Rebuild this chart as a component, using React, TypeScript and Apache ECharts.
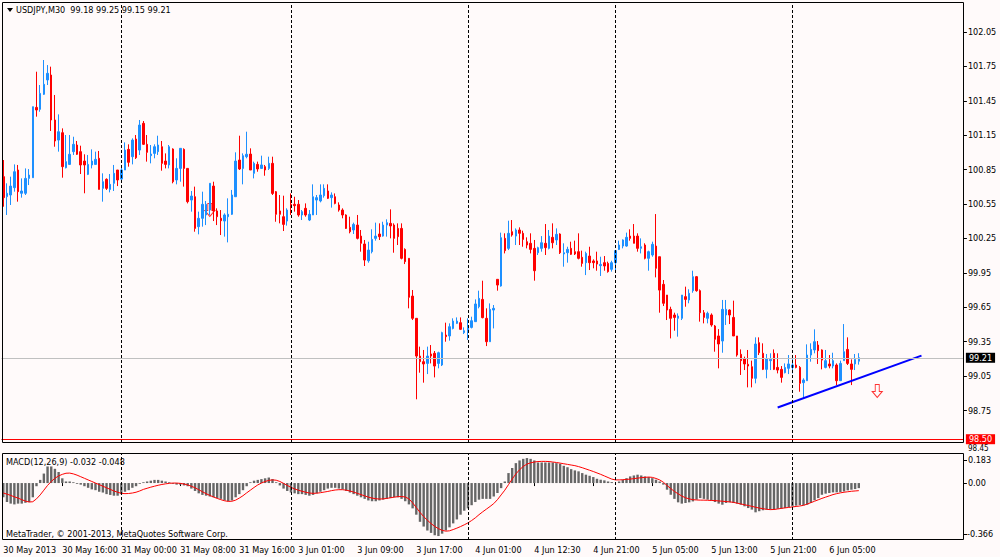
import React, { useEffect, useRef } from "react";
import * as echarts from "echarts";

const CATEGORY_COUNT = 261;
const TIME_TICKS: [number, string][] = [
  [0, "30 May 2013"], [16, "30 May 16:00"], [32, "31 May 00:00"], [48, "31 May 08:00"],
  [64, "31 May 16:00"], [80, "3 Jun 01:00"], [96, "3 Jun 09:00"], [112, "3 Jun 17:00"],
  [128, "4 Jun 01:00"], [144, "4 Jun 12:30"], [160, "4 Jun 21:00"], [176, "5 Jun 05:00"],
  [192, "5 Jun 13:00"], [208, "5 Jun 21:00"], [224, "6 Jun 05:00"],
];
const DAY_SEPARATORS = [32, 78, 126, 166, 214];
const PRICE_TICKS = [98.75, 99.05, 99.35, 99.65, 99.95, 100.25, 100.55, 100.85, 101.15, 101.45, 101.75, 102.05];
const MACD_TICKS = [0];
const BID_PRICE = 99.21;
const ALERT_PRICE = 98.5;
const TREND_LINE: [number, number][] = [[210, 98.777], [249, 99.229]];
const ARROWS: [number, number][] = [[56, 100.498], [237, 98.92]];

// [open, high, low, close]
const CANDLES: [number, number, number, number][] = [
  [100.789, 100.934, 100.527, 100.606], [100.615, 100.731, 100.455, 100.644], [100.629, 100.789, 100.542, 100.707],
  [100.693, 100.896, 100.658, 100.832], [100.847, 100.891, 100.571, 100.658], [100.644, 100.774, 100.606, 100.664],
  [100.644, 100.861, 100.629, 100.774], [100.774, 100.855, 100.716, 100.803], [100.780, 101.399, 100.780, 101.399],
  [101.393, 101.704, 101.312, 101.370], [101.376, 101.588, 101.355, 101.515], [101.507, 101.806, 101.501, 101.594],
  [101.632, 101.762, 101.588, 101.690], [101.675, 101.748, 101.187, 101.283], [101.283, 101.501, 101.050, 101.100],
  [101.108, 101.332, 101.007, 101.181], [101.172, 101.210, 100.780, 100.876], [100.867, 101.152, 100.861, 100.920],
  [100.896, 101.152, 100.891, 100.984], [101.007, 101.137, 100.978, 101.071], [101.065, 101.100, 100.978, 100.984],
  [101.007, 101.059, 100.812, 100.891], [100.925, 100.984, 100.644, 100.891], [100.809, 100.978, 100.803, 100.896],
  [100.891, 101.027, 100.861, 100.925], [100.896, 101.007, 100.891, 100.940], [100.949, 101.013, 100.678, 100.678],
  [100.687, 100.818, 100.571, 100.745], [100.766, 100.774, 100.673, 100.687], [100.678, 100.812, 100.652, 100.722],
  [100.731, 100.891, 100.664, 100.818], [100.847, 100.847, 100.707, 100.760], [100.768, 100.891, 100.745, 100.847],
  [100.847, 101.088, 100.847, 101.021], [101.027, 101.071, 100.876, 100.914], [100.963, 101.123, 100.896, 101.108],
  [101.117, 101.152, 100.943, 100.954], [101.021, 101.283, 100.978, 101.239], [101.254, 101.274, 101.065, 101.071],
  [101.071, 101.152, 100.920, 101.001], [100.972, 101.065, 100.905, 100.986], [100.992, 101.071, 100.949, 101.050],
  [101.007, 101.146, 100.978, 101.065], [101.050, 101.100, 100.841, 100.905], [100.925, 100.992, 100.861, 100.896],
  [100.891, 101.065, 100.861, 101.050], [101.030, 101.036, 100.731, 100.745], [100.760, 100.949, 100.722, 100.861],
  [100.861, 101.036, 100.745, 101.036], [101.027, 101.036, 100.702, 100.861], [100.861, 100.861, 100.556, 100.571],
  [100.585, 100.664, 100.484, 100.620], [100.614, 100.702, 100.309, 100.338], [100.353, 100.484, 100.286, 100.426],
  [100.426, 100.658, 100.353, 100.548], [100.455, 100.577, 100.367, 100.548], [100.498, 100.731, 100.455, 100.731],
  [100.707, 100.745, 100.402, 100.490], [100.490, 100.513, 100.367, 100.440], [100.426, 100.498, 100.280, 100.405],
  [100.402, 100.469, 100.266, 100.455], [100.440, 100.600, 100.216, 100.461], [100.461, 100.673, 100.455, 100.629],
  [100.614, 101.001, 100.614, 100.925], [100.934, 101.146, 100.847, 100.856], [100.861, 100.992, 100.722, 100.972],
  [100.963, 101.181, 100.949, 100.984], [100.986, 101.036, 100.847, 100.847], [100.818, 100.920, 100.774, 100.905],
  [100.896, 100.920, 100.832, 100.856], [100.861, 100.972, 100.856, 100.891], [100.876, 100.891, 100.797, 100.847],
  [100.861, 100.963, 100.847, 100.905], [100.905, 100.963, 100.629, 100.643], [100.658, 100.664, 100.396, 100.461],
  [100.490, 100.629, 100.382, 100.461], [100.440, 100.623, 100.315, 100.373], [100.402, 100.513, 100.362, 100.498],
  [100.548, 100.643, 100.455, 100.536], [100.548, 100.614, 100.484, 100.536], [100.548, 100.585, 100.440, 100.455],
  [100.455, 100.498, 100.411, 100.484], [100.513, 100.556, 100.440, 100.455], [100.411, 100.498, 100.402, 100.461],
  [100.455, 100.722, 100.455, 100.614], [100.585, 100.629, 100.455, 100.606], [100.577, 100.722, 100.565, 100.629],
  [100.623, 100.722, 100.606, 100.687], [100.664, 100.722, 100.594, 100.600], [100.606, 100.652, 100.519, 100.629],
  [100.614, 100.643, 100.548, 100.556], [100.542, 100.565, 100.484, 100.498], [100.498, 100.513, 100.426, 100.455],
  [100.455, 100.461, 100.333, 100.338], [100.347, 100.440, 100.295, 100.309], [100.324, 100.388, 100.289, 100.373],
  [100.367, 100.455, 100.242, 100.251], [100.271, 100.324, 100.135, 100.208], [100.202, 100.237, 100.010, 100.062],
  [100.056, 100.222, 100.039, 100.149], [100.135, 100.330, 100.120, 100.242], [100.251, 100.388, 100.231, 100.271],
  [100.289, 100.382, 100.237, 100.266], [100.271, 100.396, 100.266, 100.367], [100.367, 100.417, 100.266, 100.388],
  [100.382, 100.504, 100.251, 100.359], [100.367, 100.382, 100.126, 100.251], [100.338, 100.382, 100.193, 100.266],
  [100.338, 100.382, 100.068, 100.077], [100.155, 100.164, 100.027, 100.048], [100.077, 100.077, 99.641, 99.737],
  [99.748, 99.801, 99.539, 99.554], [99.554, 99.554, 98.848, 99.225], [99.225, 99.307, 99.080, 99.176],
  [99.176, 99.278, 98.993, 99.156], [99.161, 99.307, 99.068, 99.225], [99.243, 99.321, 99.161, 99.225],
  [99.249, 99.269, 99.039, 99.138], [99.161, 99.263, 99.118, 99.254], [99.147, 99.437, 99.138, 99.429],
  [99.408, 99.516, 99.350, 99.394], [99.400, 99.510, 99.359, 99.481], [99.466, 99.554, 99.458, 99.530],
  [99.510, 99.562, 99.504, 99.530], [99.516, 99.562, 99.452, 99.458], [99.429, 99.475, 99.417, 99.446],
  [99.437, 99.554, 99.365, 99.475], [99.475, 99.568, 99.466, 99.533], [99.525, 99.719, 99.525, 99.679],
  [99.655, 99.795, 99.641, 99.728], [99.719, 99.882, 99.554, 99.560], [99.554, 99.641, 99.312, 99.350],
  [99.350, 99.684, 99.350, 99.632], [99.626, 99.670, 99.466, 99.641], [99.894, 99.894, 99.795, 99.844],
  [99.836, 100.301, 99.830, 100.257], [100.251, 100.295, 100.120, 100.144], [100.164, 100.405, 100.149, 100.295],
  [100.309, 100.411, 100.266, 100.280], [100.271, 100.338, 100.193, 100.324], [100.324, 100.347, 100.193, 100.295],
  [100.295, 100.318, 100.178, 100.242], [100.222, 100.260, 100.164, 100.193], [100.208, 100.295, 100.120, 100.155],
  [100.164, 100.237, 99.882, 99.969], [100.126, 100.178, 100.106, 100.170], [100.164, 100.271, 100.135, 100.213],
  [100.208, 100.376, 100.106, 100.170], [100.164, 100.324, 100.155, 100.271], [100.260, 100.382, 100.164, 100.213],
  [100.237, 100.338, 100.193, 100.286], [100.289, 100.295, 100.115, 100.126], [100.115, 100.208, 100.004, 100.126],
  [100.126, 100.178, 100.039, 100.155], [100.164, 100.222, 100.106, 100.112], [100.135, 100.231, 100.106, 100.115],
  [100.135, 100.295, 100.068, 100.077], [100.086, 100.144, 100.004, 100.033], [100.039, 100.135, 99.931, 100.120],
  [100.097, 100.178, 99.975, 100.039], [100.054, 100.068, 99.990, 100.039], [100.054, 100.135, 99.969, 100.027],
  [100.013, 100.091, 99.923, 100.024], [100.039, 100.097, 99.969, 100.010], [100.033, 100.048, 99.952, 99.961],
  [99.981, 100.056, 99.961, 100.039], [100.039, 100.149, 99.961, 100.144], [100.155, 100.231, 100.149, 100.193],
  [100.184, 100.242, 100.164, 100.237], [100.184, 100.301, 100.178, 100.260], [100.271, 100.330, 100.231, 100.251],
  [100.271, 100.376, 100.208, 100.208], [100.271, 100.295, 100.135, 100.164], [100.164, 100.251, 100.120, 100.178],
  [100.193, 100.208, 100.068, 100.077], [100.077, 100.144, 99.969, 100.135], [100.106, 100.222, 100.091, 100.199],
  [100.184, 100.463, 99.911, 99.990], [100.091, 100.091, 99.603, 99.800], [99.850, 99.888, 99.661, 99.685],
  [99.757, 99.757, 99.539, 99.626], [99.632, 99.655, 99.379, 99.554], [99.583, 99.603, 99.446, 99.562],
  [99.554, 99.597, 99.394, 99.574], [99.554, 99.757, 99.539, 99.757], [99.743, 99.830, 99.655, 99.719],
  [99.714, 99.807, 99.685, 99.772], [99.795, 99.969, 99.777, 99.917], [99.917, 99.923, 99.786, 99.795],
  [99.795, 99.806, 99.525, 99.603], [99.603, 99.626, 99.510, 99.562], [99.554, 99.612, 99.510, 99.597],
  [99.583, 99.597, 99.481, 99.496], [99.487, 99.496, 99.263, 99.371], [99.400, 99.460, 99.118, 99.330],
  [99.356, 99.714, 99.254, 99.632], [99.583, 99.714, 99.496, 99.632], [99.626, 99.632, 99.504, 99.583],
  [99.562, 99.708, 99.400, 99.400], [99.400, 99.400, 99.220, 99.234], [99.240, 99.283, 99.060, 99.185],
  [99.202, 99.220, 99.103, 99.156], [99.153, 99.278, 98.952, 99.138], [99.132, 99.185, 98.952, 99.031],
  [99.031, 99.388, 98.987, 99.330], [99.342, 99.388, 99.234, 99.254], [99.249, 99.336, 99.103, 99.109],
  [99.109, 99.243, 99.031, 99.202], [99.185, 99.249, 99.103, 99.196], [99.249, 99.283, 99.103, 99.109],
  [99.126, 99.249, 99.074, 99.103], [99.109, 99.138, 98.993, 99.039], [99.080, 99.161, 99.074, 99.126],
  [99.118, 99.234, 99.068, 99.156], [99.126, 99.220, 99.074, 99.147], [99.147, 99.234, 99.118, 99.126],
  [99.126, 99.138, 98.914, 98.987], [98.993, 99.031, 98.856, 99.016], [99.010, 99.327, 99.010, 99.234],
  [99.234, 99.336, 99.176, 99.283], [99.278, 99.458, 99.249, 99.350], [99.321, 99.356, 99.156, 99.272],
  [99.278, 99.283, 99.109, 99.190], [99.126, 99.278, 99.118, 99.185], [99.156, 99.234, 99.118, 99.138],
  [99.138, 99.254, 99.118, 99.185], [99.147, 99.161, 98.972, 99.010], [99.010, 99.185, 99.010, 99.161],
  [99.185, 99.504, 99.185, 99.263], [99.283, 99.388, 99.147, 99.161], [99.156, 99.196, 98.972, 99.109],
  [99.156, 99.243, 99.103, 99.196], [99.18, 99.25, 99.15, 99.21],
];

const MACD_MAIN: number[] = [
  -0.09, -0.12, -0.13, -0.135, -0.13, -0.13, -0.125, -0.12, -0.09, -0.02,
  0.02, 0.06, 0.105, 0.105, 0.09, 0.07, 0.03, 0.01, 0.01, 0.005,
  -0.005, -0.01, -0.02, -0.03, -0.04, -0.045, -0.055, -0.06, -0.07, -0.075,
  -0.08, -0.08, -0.07, -0.055, -0.045, -0.03, -0.02, -0.005, 0.005, 0.01,
  0.015, 0.02, 0.02, 0.015, 0.01, 0.005, -0.005, -0.01, -0.01, -0.015,
  -0.02, -0.035, -0.05, -0.065, -0.075, -0.08, -0.085, -0.09, -0.095, -0.1,
  -0.11, -0.115, -0.11, -0.09, -0.07, -0.045, -0.02, 0.005, 0.015, 0.02,
  0.025, 0.03, 0.035, 0.025, 0.005, -0.015, -0.035, -0.05, -0.06, -0.065,
  -0.07, -0.07, -0.075, -0.08, -0.075, -0.065, -0.055, -0.045, -0.035, -0.03,
  -0.03, -0.035, -0.04, -0.05, -0.06, -0.07, -0.08, -0.09, -0.1, -0.11,
  -0.115, -0.115, -0.11, -0.105, -0.1, -0.095, -0.09, -0.09, -0.1, -0.115,
  -0.135, -0.16, -0.2, -0.245, -0.275, -0.3, -0.315, -0.33, -0.335, -0.32,
  -0.3, -0.28, -0.255, -0.23, -0.2, -0.175, -0.16, -0.14, -0.12, -0.105,
  -0.1, -0.1, -0.1, -0.085, -0.063, -0.032, 0.01, 0.063, 0.095, 0.126,
  0.143, 0.153, 0.158, 0.153, 0.143, 0.13, 0.13, 0.13, 0.13, 0.13,
  0.126, 0.122, 0.109, 0.1, 0.088, 0.08, 0.074, 0.063, 0.053, 0.046,
  0.038, 0.027, 0.021, 0.017, 0.01, 0.006, 0.0, 0.01, 0.021, 0.031,
  0.042, 0.048, 0.053, 0.048, 0.042, 0.038, 0.031, 0.021, 0.01, -0.01,
  -0.042, -0.074, -0.1, -0.122, -0.13, -0.126, -0.122, -0.116, -0.105, -0.095,
  -0.1, -0.105, -0.111, -0.12, -0.13, -0.137, -0.126, -0.122, -0.126, -0.13,
  -0.137, -0.147, -0.158, -0.168, -0.185, -0.178, -0.172, -0.168, -0.168, -0.168,
  -0.163, -0.163, -0.158, -0.153, -0.147, -0.143, -0.139, -0.141, -0.137, -0.126,
  -0.109, -0.095, -0.074, -0.067, -0.063, -0.059, -0.059, -0.057, -0.053, -0.046,
  -0.042, -0.038, -0.032,
];

const MACD_SIGNAL: number[] = [
  -0.063, -0.07, -0.078, -0.087, -0.095, -0.105, -0.114, -0.12, -0.118, -0.1,
  -0.075, -0.045, -0.015, 0.01, 0.03, 0.045, 0.055, 0.062, 0.063, 0.058,
  0.05, 0.04, 0.03, 0.02, 0.01, 0.0, -0.01, -0.02, -0.03, -0.04,
  -0.05, -0.058, -0.065, -0.067, -0.066, -0.063, -0.058, -0.05, -0.04, -0.033,
  -0.026, -0.02, -0.014, -0.009, -0.005, -0.002, 0.0, 0.0, -0.002, -0.006,
  -0.012, -0.02, -0.03, -0.042, -0.055, -0.067, -0.078, -0.088, -0.097, -0.105,
  -0.112, -0.116, -0.115, -0.108, -0.095, -0.08, -0.062, -0.045, -0.028, -0.012,
  0.0, 0.01, 0.017, 0.02, 0.018, 0.01, -0.002, -0.015, -0.027, -0.037,
  -0.045, -0.052, -0.058, -0.063, -0.065, -0.064, -0.061, -0.057, -0.053, -0.048,
  -0.044, -0.042, -0.042, -0.045, -0.05, -0.057, -0.065, -0.073, -0.081, -0.089,
  -0.095, -0.099, -0.101, -0.1, -0.097, -0.093, -0.089, -0.086, -0.085, -0.088,
  -0.1, -0.125, -0.155, -0.185, -0.212, -0.235, -0.256, -0.274, -0.288, -0.299,
  -0.304, -0.302, -0.294, -0.285, -0.275, -0.264, -0.252, -0.237, -0.22, -0.2,
  -0.182, -0.165, -0.148, -0.13, -0.105, -0.075, -0.045, -0.01, 0.025, 0.058,
  0.084, 0.105, 0.12, 0.128, 0.133, 0.136, 0.137, 0.137, 0.136, 0.133,
  0.13, 0.126, 0.122, 0.118, 0.114, 0.11, 0.104, 0.097, 0.089, 0.081,
  0.073, 0.064, 0.055, 0.045, 0.035, 0.025, 0.02, 0.02, 0.021, 0.023,
  0.025, 0.028, 0.031, 0.034, 0.036, 0.038, 0.036, 0.029, 0.02, 0.005,
  -0.015, -0.035, -0.053, -0.068, -0.082, -0.093, -0.1, -0.105, -0.107, -0.108,
  -0.108, -0.109, -0.11, -0.111, -0.113, -0.115, -0.117, -0.119, -0.122, -0.127,
  -0.132, -0.137, -0.142, -0.147, -0.153, -0.158, -0.162, -0.166, -0.168, -0.167,
  -0.164, -0.16, -0.157, -0.154, -0.151, -0.148, -0.145, -0.141, -0.133, -0.124,
  -0.115, -0.106, -0.097, -0.089, -0.081, -0.073, -0.067, -0.062, -0.058, -0.055,
  -0.052, -0.05, -0.048,
];

const FONT = '"DejaVu Sans Condensed", "Liberation Sans", Arial, sans-serif';
const BULL = "#1E90FF";
const BEAR = "#FF0000";
const BG = "#FFFAFA";

export default function App() {
  const ref = useRef<HTMLDivElement>(null);

  useEffect(() => {
    document.body.style.margin = "0";
    const chart = echarts.init(ref.current!, undefined, { renderer: "svg" });
    const categories = Array.from({ length: CATEGORY_COUNT }, (_, i) => String(i));
    const tickMap = new Map<number, string>(TIME_TICKS);
    const gridLeft = 1.46;
    const gridWidth = CATEGORY_COUNT * 3.6875;

    const sepLines = DAY_SEPARATORS.map((i) => ({ xAxis: i }));
    const sepStyle = { color: "#000", type: [3, 2] as any, width: 1 };

    const option: any = {
      animation: false,
      backgroundColor: BG,
      textStyle: { fontFamily: FONT },
      grid: [
        { left: gridLeft, top: 3, width: gridWidth, height: 440 },
        { left: gridLeft, top: 453, width: gridWidth, height: 87 },
      ],
      xAxis: [
        {
          type: "category", gridIndex: 0, data: categories, boundaryGap: true,
          axisLine: { show: false }, axisTick: { show: false }, axisLabel: { show: false }, splitLine: { show: false },
        },
        {
          type: "category", gridIndex: 1, data: categories, boundaryGap: true, position: "bottom",
          axisLine: { show: false },
          axisTick: {
            show: true, alignWithLabel: true, length: 3, lineStyle: { color: "#000" },
            interval: (i: number) => tickMap.has(i),
          },
          axisLabel: {
            show: true, interval: (i: number) => tickMap.has(i),
            formatter: (_v: string, i: number) => tickMap.get(i) ?? "",
            align: "left", margin: 5, color: "#000", fontSize: 9, fontFamily: FONT,
          },
          splitLine: { show: false },
        },
      ],
      yAxis: [
        {
          type: "value", gridIndex: 0, position: "right", min: 98.467, max: 102.303,
          splitLine: { show: false }, axisLine: { show: false },
          axisTick: { show: true, length: 3, lineStyle: { color: "#000" }, customValues: PRICE_TICKS },
          axisLabel: {
            customValues: PRICE_TICKS, formatter: (v: number) => v.toFixed(2),
            color: "#000", fontSize: 9, fontFamily: FONT, margin: 4,
          },
        },
        {
          type: "value", gridIndex: 1, position: "right", min: -0.36, max: 0.19,
          splitLine: { show: false }, axisLine: { show: false },
          axisTick: { show: true, length: 3, lineStyle: { color: "#000" }, customValues: MACD_TICKS },
          axisLabel: {
            customValues: MACD_TICKS, formatter: (v: number) => v.toFixed(2),
            color: "#000", fontSize: 9, fontFamily: FONT, margin: 4,
          },
        },
      ],
      series: [
        {
          type: "scatter", xAxisIndex: 0, yAxisIndex: 0, z: 1, silent: true,
          data: ARROWS,
          symbol: "path://M3,0 L7,0 L7,7 L10,7 L5,13 L0,7 L3,7 Z",
          symbolSize: [10, 13],
          itemStyle: { color: BG, borderColor: "#FF0000", borderWidth: 1 },
        },
        {
          type: "candlestick", xAxisIndex: 0, yAxisIndex: 0, z: 2,
          barWidth: 2,
          data: CANDLES.map(([o, h, l, c]) => [o, c, l, h]),
          itemStyle: { color: BULL, color0: BEAR, borderColor: BULL, borderColor0: BEAR, borderWidth: 1 },
          markLine: {
            silent: true, symbol: ["none", "none"], animation: false,
            data: [
              ...sepLines.map((d) => ({ ...d, lineStyle: sepStyle, label: { show: false } })),
              {
                yAxis: BID_PRICE, lineStyle: { color: "#C0C0C0", type: "solid", width: 1 },
                label: {
                  show: true, position: "end", formatter: BID_PRICE.toFixed(2), color: "#fff",
                  backgroundColor: "#000", padding: [1, 3, 0, 3], fontSize: 9, fontFamily: FONT, distance: 2,
                },
              },
              {
                yAxis: ALERT_PRICE, lineStyle: { color: "#FF0000", type: "solid", width: 1 },
                label: {
                  show: true, position: "end", formatter: ALERT_PRICE.toFixed(2), color: "#fff",
                  backgroundColor: "#FF0000", padding: [1, 3, 0, 3], fontSize: 9, fontFamily: FONT, distance: 2,
                },
              },
            ],
          },
        },
        {
          type: "line", xAxisIndex: 0, yAxisIndex: 0, z: 3, silent: true,
          data: TREND_LINE, showSymbol: false, symbol: "none",
          lineStyle: { color: "#0000FF", width: 2 },
        },
        {
          type: "bar", xAxisIndex: 1, yAxisIndex: 1, z: 2, silent: true,
          data: MACD_MAIN, barWidth: 2.4,
          itemStyle: { color: "#666666" },
          markLine: {
            silent: true, symbol: ["none", "none"], animation: false,
            data: sepLines, lineStyle: sepStyle, label: { show: false },
          },
        },
        {
          type: "line", xAxisIndex: 1, yAxisIndex: 1, z: 3, silent: true,
          data: MACD_SIGNAL, showSymbol: false, symbol: "none",
          lineStyle: { color: "#FF0000", width: 1 },
        },
      ],
      graphic: [
        { type: "text", z: 0, x: 968, y: 444, style: { text: "98.45", fill: "#000", font: `8px ${FONT}`, verticalAlign: "top" } },
        { type: "rect", z: 50, shape: { x: 2.5, y: 2.5, width: 961, height: 440 }, style: { fill: "none", stroke: "#000", lineWidth: 1 } },
        { type: "rect", z: 50, shape: { x: 2.5, y: 453.5, width: 961, height: 86 }, style: { fill: "none", stroke: "#000", lineWidth: 1 } },
        { type: "polygon", z: 50, shape: { points: [[7, 8], [13, 8], [10, 12]] }, style: { fill: "#000" } },
        { type: "text", z: 50, x: 16, y: 10, style: { text: "USDJPY,M30  99.18 99.25 99.15 99.21", fill: "#000", font: `9px ${FONT}`, verticalAlign: "middle" } },
        { type: "text", z: 50, x: 6, y: 462, style: { text: "MACD(12,26,9) -0.032 -0.048", fill: "#000", font: `9px ${FONT}`, verticalAlign: "middle" } },
        { type: "text", z: 50, x: 6, y: 534, style: { text: "MetaTrader, © 2001-2013, MetaQuotes Software Corp.", fill: "#000", font: `9px ${FONT}`, verticalAlign: "middle" } },
        { type: "line", z: 50, shape: { x1: 964, y1: 460.5, x2: 967, y2: 460.5 }, style: { stroke: "#000", lineWidth: 1 } },
        { type: "text", z: 50, x: 968, y: 460, style: { text: "0.183", fill: "#000", font: `9px ${FONT}`, verticalAlign: "middle" } },
        { type: "line", z: 50, shape: { x1: 964, y1: 534.5, x2: 967, y2: 534.5 }, style: { stroke: "#000", lineWidth: 1 } },
        { type: "text", z: 50, x: 967, y: 534, style: { text: "-0.366", fill: "#000", font: `9px ${FONT}`, verticalAlign: "middle" } },
      ],
    };

    chart.setOption(option);
    return () => chart.dispose();
  }, []);

  return <div ref={ref} style={{ position: "absolute", left: 0, top: 0, width: 1000, height: 557 }} />;
}
